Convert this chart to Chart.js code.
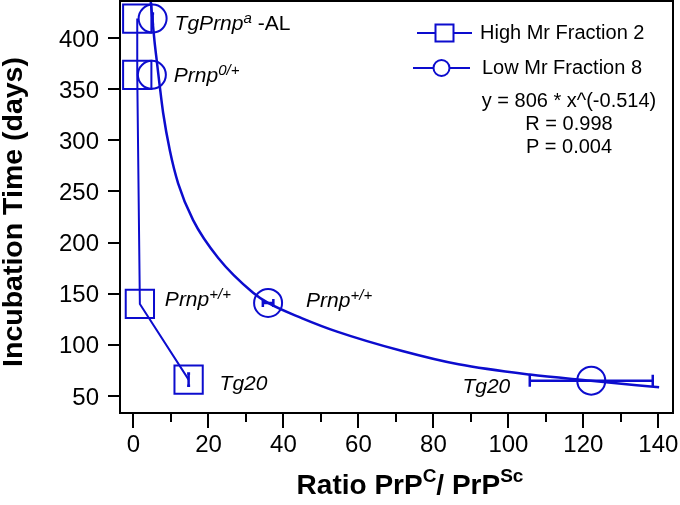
<!DOCTYPE html>
<html>
<head>
<meta charset="utf-8">
<script src="https://cdn.jsdelivr.net/npm/chart.js@4.4.0/dist/chart.umd.min.js"></script>
<style>
  html, body { margin: 0; padding: 0; background: #fff; }
  #wrap { width: 680px; height: 505px; }
</style>
</head>
<body>
<div id="wrap"><canvas id="chart" width="680" height="505"></canvas></div>
<script>
// values
const highX = [1.0, 1.0, 1.7, 14.7];
const highY = [419, 364, 140, 66];
const highErrY = [0, 0, 0, 6];

const lowX = [5.1, 4.9, 35.9, 122.1];
const lowY = [419, 364, 141, 65];
const lowErrX = [0, 0, 1.4, 16.4];
const lowErrY = [5, 0, 0, 0];

// power fit curve through the low Mr points
const fitX = [4.6, 5.0, 5.6, 6.2, 7.0, 7.9, 9.7, 11.9, 15.9, 22.6, 31.9, 35.9, 45.0, 54.3, 71.7, 86.7, 105.7, 122.0, 140.2];
const fitY = [436, 420, 397, 378, 353, 327, 290, 258, 222, 185, 151, 141, 126, 113, 94, 81, 71, 65, 58.5];

const xTicks = [0, 20, 40, 60, 80, 100, 120, 140];
const xMinorTicks = [10, 30, 50, 70, 90, 110, 130];
const yTicks = [50, 100, 150, 200, 250, 300, 350, 400];

const seriesNames = ['High Mr Fraction 2', 'Low Mr Fraction 8'];
const fitText = ['y = 806 * x^(-0.514)', 'R = 0.998', 'P = 0.004'];

const BLUE = '#0c0cce';
const FONT = '"Liberation Sans", Arial, Helvetica, sans-serif';

// point labels: text parts, anchored to a data point with a pixel offset
const pointLabels = [
    { series: 'low', i: 0, dx: 22, dy: 11, parts: [['TgPrnp', 'i'], ['a', 'sup'], [' -AL', 'n']] },
    { series: 'low', i: 1, dx: 22, dy: 7, parts: [['Prnp', 'i'], ['0/+', 'sup']] },
    { series: 'high', i: 2, dx: 25, dy: 2, parts: [['Prnp', 'i'], ['+/+', 'sup']] },
    { series: 'low', i: 2, dx: 38, dy: 4, parts: [['Prnp', 'i'], ['+/+', 'sup']] },
    { series: 'high', i: 3, dx: 31, dy: 10, parts: [['Tg20', 'i']] },
    { series: 'low', i: 3, dx: -81, dy: 12, align: 'right', parts: [['Tg20', 'i']] }
];

const partFont = {
    i: { font: 'italic 21px ' + FONT, rise: 0 },
    n: { font: '21px ' + FONT, rise: 0 },
    sup: { font: 'italic 15px ' + FONT, rise: 7 },
    bold: { font: 'bold 28px ' + FONT, rise: 0 },
    bsup: { font: 'bold 19px ' + FONT, rise: 12 }
};

function drawParts(ctx, x, y, parts, align) {
    let width = 0;
    parts.forEach(([t, k]) => { ctx.font = partFont[k].font; width += ctx.measureText(t).width; });
    let cx = align === 'right' ? x - width : (align === 'center' ? x - width / 2 : x);
    ctx.textBaseline = 'alphabetic';
    ctx.textAlign = 'left';
    parts.forEach(([t, k]) => {
        ctx.font = partFont[k].font;
        ctx.fillText(t, cx, y - partFont[k].rise);
        cx += ctx.measureText(t).width;
    });
}

const extras = {
    id: 'extras',
    afterDatasetsDraw(chart) {
        const { ctx, chartArea: a, scales: { x: sx, y: sy } } = chart;
        ctx.save();

        // error bars
        ctx.strokeStyle = BLUE;
        ctx.lineWidth = 2.5;
        const vbar = (xv, yv, e, cap) => {
            const px = sx.getPixelForValue(xv);
            const y1 = sy.getPixelForValue(yv - e), y2 = sy.getPixelForValue(yv + e);
            ctx.beginPath();
            ctx.moveTo(px, y1); ctx.lineTo(px, y2);
            ctx.moveTo(px - cap, y1); ctx.lineTo(px + cap, y1);
            ctx.moveTo(px - cap, y2); ctx.lineTo(px + cap, y2);
            ctx.stroke();
        };
        const hbar = (xv, yv, e, cap) => {
            const py = sy.getPixelForValue(yv);
            const x1 = sx.getPixelForValue(xv - e), x2 = sx.getPixelForValue(xv + e);
            ctx.beginPath();
            ctx.moveTo(x1, py); ctx.lineTo(x2, py);
            ctx.moveTo(x1, py - cap); ctx.lineTo(x1, py + cap);
            ctx.moveTo(x2, py - cap); ctx.lineTo(x2, py + cap);
            ctx.stroke();
        };
        highErrY.forEach((e, i) => { if (e) vbar(highX[i], highY[i], e, 1.5); });
        lowErrY.forEach((e, i) => { if (e) vbar(lowX[i], lowY[i], e, 1.5); });
        lowErrX.forEach((e, i) => { if (e) hbar(lowX[i], lowY[i], e, e > 5 ? 6 : 4); });

        // frame and minor ticks
        ctx.strokeStyle = '#000';
        ctx.lineWidth = 2;
        ctx.strokeRect(a.left, a.top, a.right - a.left, a.bottom - a.top);
        ctx.beginPath();
        xMinorTicks.forEach(v => {
            const px = Math.round(sx.getPixelForValue(v));
            ctx.moveTo(px, a.bottom); ctx.lineTo(px, a.bottom + 9);
        });
        ctx.stroke();

        // tick labels
        ctx.fillStyle = '#000';
        ctx.font = '24px ' + FONT;
        ctx.textBaseline = 'alphabetic';
        ctx.textAlign = 'center';
        xTicks.forEach(v => ctx.fillText(String(v), sx.getPixelForValue(v), a.bottom + 39));
        ctx.textAlign = 'right';
        yTicks.forEach(v => ctx.fillText(String(v), a.left - 21, sy.getPixelForValue(v) + 8.5));

        // point labels
        pointLabels.forEach(l => {
            const xs = l.series === 'low' ? lowX : highX;
            const ys = l.series === 'low' ? lowY : highY;
            const px = sx.getPixelForValue(xs[l.i]) + l.dx;
            const py = sy.getPixelForValue(ys[l.i]) + l.dy;
            drawParts(ctx, px, py, l.parts, l.align);
        });

        // legend
        const legendRows = [
            { x1: 417, x2: 472, y: 33, tx: 480, ty: 39, style: 'rect' },
            { x1: 413, x2: 470, y: 68, tx: 482, ty: 74, style: 'circle' }
        ];
        legendRows.forEach((r, k) => {
            ctx.strokeStyle = BLUE;
            ctx.lineWidth = 2;
            ctx.beginPath();
            ctx.moveTo(r.x1, r.y); ctx.lineTo(r.x2, r.y);
            ctx.stroke();
            const mx = (r.x1 + r.x2) / 2;
            ctx.beginPath();
            if (r.style === 'rect') ctx.rect(mx - 9, r.y - 8.5, 18, 17);
            else ctx.arc(mx, r.y, 8, 0, Math.PI * 2);
            ctx.fillStyle = '#fff';
            ctx.fill();
            ctx.stroke();
            ctx.fillStyle = '#000';
            ctx.font = '20px ' + FONT;
            ctx.textAlign = 'left';
            ctx.textBaseline = 'alphabetic';
            ctx.fillText(seriesNames[k], r.tx, r.ty);
        });
        ctx.textAlign = 'center';
        [107, 130, 153].forEach((ty, k) => ctx.fillText(fitText[k], 569, ty));

        // axis titles
        drawParts(ctx, 410, 494, [['Ratio PrP', 'bold'], ['C', 'bsup'], ['/ PrP', 'bold'], ['Sc', 'bsup']], 'center');
        ctx.save();
        ctx.translate(22, 212);
        ctx.rotate(-Math.PI / 2);
        ctx.font = 'bold 28.5px ' + FONT;
        ctx.textAlign = 'center';
        ctx.textBaseline = 'alphabetic';
        ctx.fillText('Incubation Time (days)', 0, 0);
        ctx.restore();

        ctx.restore();
    }
};

new Chart(document.getElementById('chart'), {
    type: 'scatter',
    data: {
        datasets: [
            {
                label: seriesNames[0],
                data: highX.map((x, i) => ({ x: x, y: highY[i] })),
                showLine: true,
                borderColor: BLUE,
                borderWidth: 2,
                pointStyle: 'rect',
                pointRadius: 20,
                pointBorderWidth: 2,
                pointBorderColor: BLUE,
                pointBackgroundColor: 'transparent'
            },
            {
                label: seriesNames[1],
                data: lowX.map((x, i) => ({ x: x, y: lowY[i] })),
                showLine: false,
                pointStyle: 'circle',
                pointRadius: 14,
                pointBorderWidth: 2,
                pointBorderColor: BLUE,
                pointBackgroundColor: 'transparent'
            },
            {
                label: 'fit',
                data: fitX.map((x, i) => ({ x: x, y: fitY[i] })),
                showLine: true,
                borderColor: BLUE,
                borderWidth: 2.5,
                pointRadius: 0,
                cubicInterpolationMode: 'monotone'
            }
        ]
    },
    options: {
        responsive: false,
        animation: false,
        layout: { autoPadding: false, padding: { top: 1, right: 7, left: 0, bottom: 0 } },
        plugins: {
            legend: { display: false },
            tooltip: { enabled: false }
        },
        scales: {
            x: {
                type: 'linear',
                min: -3.6,
                max: 143.9,
                afterBuildTicks: s => { s.ticks = xTicks.map(v => ({ value: v })); },
                afterFit: s => { s.height = 92; },
                ticks: { display: false },
                grid: { drawOnChartArea: false, color: '#000', lineWidth: 2, tickLength: 15 },
                border: { display: false }
            },
            y: {
                min: 33.4,
                max: 436.2,
                afterBuildTicks: s => { s.ticks = yTicks.map(v => ({ value: v })); },
                afterFit: s => { s.width = 120; },
                ticks: { display: false },
                grid: { drawOnChartArea: false, color: '#000', lineWidth: 2, tickLength: 12 },
                border: { display: false }
            }
        }
    },
    plugins: [extras]
});
</script>
</body>
</html>
